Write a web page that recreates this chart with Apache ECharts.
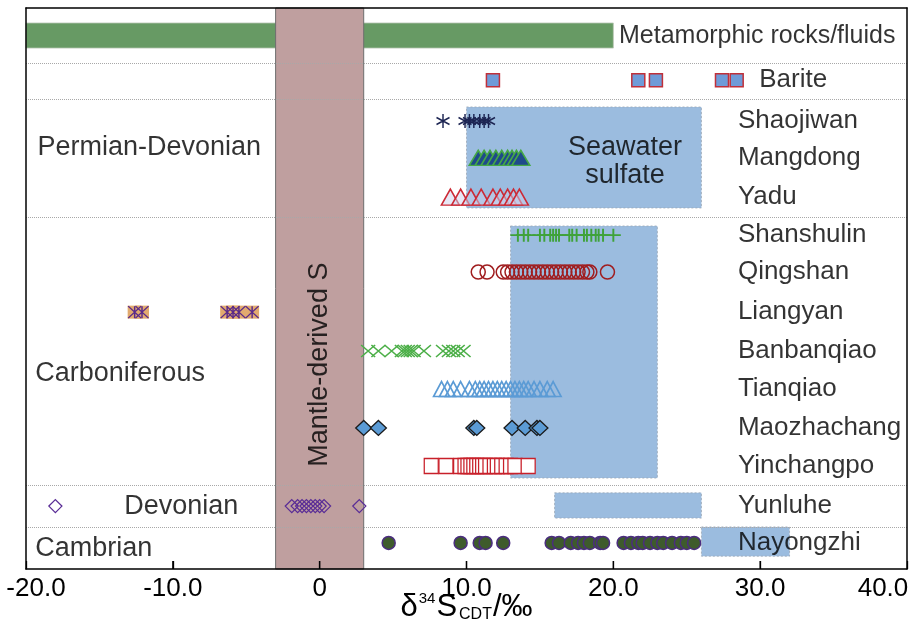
<!DOCTYPE html>
<html>
<head>
<meta charset="utf-8" />
<title>d34S</title>
<style>html,body{margin:0;padding:0;background:#fff}</style>
</head>
<body>
<div id="main" style="width:917px;height:636px"></div>
<script src="https://cdn.jsdelivr.net/npm/echarts@6/dist/echarts.min.js"></script>
<script type="text/javascript">
// ---- data ----
var rows = ['Metamorphic rocks/fluids', 'Barite', 'Shaojiwan', 'Mangdong', 'Yadu',
    'Shanshulin', 'Qingshan', 'Liangyan', 'Banbanqiao', 'Tianqiao', 'Maozhachang',
    'Yinchangpo', 'Yunluhe', 'Nayongzhi'];
var groups = ['Permian-Devonian', 'Carboniferous', 'Devonian', 'Cambrian'];
var xTicks = [-20, -10, 0, 10, 20, 30, 40];

var metamorphic = [-20, 20];
var mantle = [-3, 3];
var seawater = [[10, 26], [13, 23], [16, 26], [26, 32]];

var barite = [11.8, 21.7, 22.9, 27.4, 28.4];
var shaojiwan = [8.4, 9.9, 10.2, 10.5, 10.9, 11.2, 11.5];
var mangdong = [10.8, 11.2, 11.6, 12.0, 12.4, 12.8, 13.1, 13.4, 13.7];
var yadu = [8.9, 9.6, 10.3, 11.0, 11.8, 12.3, 12.8, 13.2, 13.6];
var shanshulin = [13.5, 13.9, 14.2, 15.0, 15.3, 15.7, 15.9, 16.1, 16.3, 17.0, 17.2, 17.5,
    18.0, 18.2, 18.5, 18.8, 19.0, 19.3, 20.0];
var qingshan = [10.8, 11.4, 12.5, 12.8, 13.1, 13.4, 13.7, 14.0, 14.3, 14.6, 14.9, 15.2,
    15.5, 15.8, 16.1, 16.4, 16.7, 17.0, 17.3, 17.6, 17.9, 18.2, 18.4, 19.6];
var liangyan = [-12.6, -12.1, -6.3, -5.9, -5.5, -4.6];
var banbanqiao = [3.3, 4.0, 4.9, 5.6, 5.8, 6.0, 6.2, 6.4, 7.1, 8.4, 8.8, 9.1, 9.4, 9.8];
var tianqiao = [8.3, 8.7, 9.1, 9.6, 10.2, 10.6, 10.9, 11.2, 11.5, 11.8, 12.1, 12.4, 12.7,
    13.0, 13.3, 13.6, 13.9, 14.2, 14.6, 15.0, 15.5, 15.9];
var maozhachang = [3.0, 4.0, 10.5, 10.7, 13.1, 14.0, 14.8, 15.0];
var yinchangpo = [7.6, 8.6, 9.6, 9.9, 10.1, 10.3, 10.5, 10.7, 10.9, 11.1, 11.3, 11.6, 11.9,
    12.1, 12.4, 12.7, 13.0, 13.3, 14.2];
var devonian = [-18.0, -1.9, -1.5, -1.2, -0.9, -0.6, -0.3, 0.0, 0.3, 2.7];
var nayongzhi = [4.7, 9.6, 10.9, 11.3, 12.5, 15.8, 16.3, 17.1, 17.6, 18.0, 18.4, 19.1, 19.3,
    20.7, 21.2, 21.7, 22.0, 22.5, 23.0, 23.4, 24.0, 24.6, 25.0, 25.5];

// ---- layout on the hidden 0..14 row scale ----
var yMax = 14;
var rowLevel = [0.69, 1.80, 2.82, 3.74, 4.72, 5.67, 6.59, 7.59, 8.56, 9.51, 10.48, 11.43, 12.43, 13.35];
var sepLevels = [1.37, 2.27, 5.22, 11.9, 12.95];
var seawaterSpan = [[2.47, 4.99], [5.44, 11.73], [12.1, 12.73], [12.95, 13.68]];
var metamorphicSpan = [0.374, 1.0];
var rowLabelX = [20.35, 29.9, 28.45, 28.45, 28.45, 28.45, 28.45, 28.45, 28.45, 28.45, 28.45, 28.45, 28.45, 28.45];
var groupPos = [[-19.25, 3.49], [-19.4, 9.11], [-13.35, 12.43], [-19.4, 13.5]];

var FONT = 'Liberation Sans';
var INK = '#000000';

function lvl(name) {
    return rowLevel[rows.indexOf(name)];
}

function onRow(name, values) {
    var y = lvl(name);
    return values.map(function (v) { return [v, y]; });
}

function boxRender(style) {
    return function (params, api) {
        var a = api.coord([api.value(0), api.value(2)]);
        var b = api.coord([api.value(1), api.value(3)]);
        return {
            type: 'rect',
            shape: { x: a[0], y: a[1], width: b[0] - a[0], height: b[1] - a[1] },
            style: style
        };
    };
}

function boxSeries(data, style, z) {
    return {
        type: 'custom',
        silent: true,
        z: z,
        renderItem: boxRender(style),
        dimensions: ['x0', 'x1', 'y0', 'y1'],
        encode: { x: [0, 1], y: [2, 3] },
        data: data
    };
}

function pts(name, data, symbol, size, color, border, bw) {
    return {
        name: name,
        type: 'scatter',
        z: 5,
        silent: true,
        symbol: symbol,
        symbolSize: size,
        itemStyle: { color: color, borderColor: border, borderWidth: bw, opacity: 1 },
        data: data
    };
}

function textSeries(data, label, z) {
    return {
        type: 'scatter',
        silent: true,
        z: z || 6,
        symbolSize: 1,
        itemStyle: { color: 'rgba(0,0,0,0)' },
        label: Object.assign({
            show: true,
            formatter: function (p) { return p.value[2]; },
            fontFamily: FONT,
            fontSize: 26,
            color: INK
        }, label),
        data: data
    };
}

var ASTER = 'path://M0,-1L0,1M-0.87,-0.5L0.87,0.5M-0.87,0.5L0.87,-0.5';
var ASTER_BOX = 'path://M0,-1L0,1M-1,-1L1,1M-1,1L1,-1';
var PLUS = 'path://M0,-1L0,1M-1,0L1,0';
var CROSS = 'path://M-1,-1L1,1M-1,1L1,-1';

var seaData = seawater.map(function (r, i) {
    return [r[0], r[1], seawaterSpan[i][0], seawaterSpan[i][1]];
});

var rowLabelData = rows.map(function (r, i) {
    var item = { value: [rowLabelX[i], rowLevel[i], r] };
    if (i === 0) item.label = { fontSize: 25 };
    return item;
});

var series = [
    boxSeries([[metamorphic[0], metamorphic[1], metamorphicSpan[0], metamorphicSpan[1]]],
        { fill: '#679a64', stroke: '#b9c7b5', lineWidth: 0.8 }, 1),
    boxSeries(seaData,
        { fill: '#9bbcdf', stroke: '#9aa6b4', lineWidth: 0.8, lineDash: [2, 2] }, 1),
    boxSeries([[mantle[0], mantle[1], 0, yMax]],
        { fill: '#bf9f9f', stroke: '#6e6e6e', lineWidth: 1 }, 2),
    {
        type: 'scatter',
        silent: true,
        z: 3,
        data: [],
        markLine: {
            silent: true,
            symbol: ['none', 'none'],
            label: { show: false },
            lineStyle: { color: '#a8a8a8', type: 'dotted', width: 1 },
            data: sepLevels.map(function (v) { return { yAxis: v }; })
        }
    },
    pts('Barite', onRow('Barite', barite), 'rect', [13, 13], '#6f9bd8', '#c0303a', 1.5),
    pts('Shaojiwan', onRow('Shaojiwan', shaojiwan), ASTER, [13, 14], 'transparent', '#1c2452', 1.5),
    pts('Mangdong', onRow('Mangdong', mangdong), 'triangle', [18, 15], '#1f4a8a', '#45a845', 1.5),
    pts('Yadu', onRow('Yadu', yadu), 'triangle', [18, 16], 'rgba(205,210,238,0.5)', '#cc2a36', 1.5),
    pts('Shanshulin', onRow('Shanshulin', shanshulin), PLUS, [15, 13], 'transparent', '#3fa23a', 1.8),
    pts('Qingshan', onRow('Qingshan', qingshan), 'circle', 14, 'transparent', '#a01d1f', 1.5),
    pts('Liangyan', onRow('Liangyan', liangyan), 'rect', [14, 13], '#e2aa6e', '#e2aa6e', 0),
    pts('Liangyan', onRow('Liangyan', liangyan), ASTER_BOX, [13, 12], 'transparent', '#5a2a8a', 1.4),
    pts('Banbanqiao', onRow('Banbanqiao', banbanqiao), CROSS, [14, 12], 'transparent', '#4caf48', 1.4),
    pts('Tianqiao', onRow('Tianqiao', tianqiao), 'triangle', [16, 15], 'transparent', '#5b9bd5', 1.6),
    pts('Maozhachang', onRow('Maozhachang', maozhachang), 'diamond', [16, 15], '#5b9bd5', '#1a1a1a', 1.3),
    pts('Yinchangpo', onRow('Yinchangpo', yinchangpo), 'rect', [14, 15], '#ffffff', '#c8202a', 1.3),
    pts('Devonian', onRow('Yunluhe', devonian), 'diamond', [13, 13], 'transparent', '#5a2d96', 1.3),
    pts('Nayongzhi', onRow('Nayongzhi', nayongzhi), 'circle', 13, '#3e5b2c', '#4b2d7f', 1.5),
    textSeries(rowLabelData, { position: 'right', distance: 0 }),
    textSeries(groups.map(function (g, i) { return [groupPos[i][0], groupPos[i][1], g]; }),
        { position: 'right', distance: 0, fontSize: 27 }),
    textSeries([[20.8, 3.82, 'Seawater\nsulfate']],
        { position: 'inside', align: 'center', lineHeight: 28, fontSize: 27 }),
    textSeries([[0, 8.9, 'Mantle-derived S']],
        { position: 'inside', rotate: 90, align: 'center', fontSize: 27 }),
    // inner tick marks on the bottom axis, drawn on top of the bands
    {
        type: 'custom',
        silent: true,
        z: 11,
        renderItem: function (params, api) {
            var p = api.coord([api.value(0), api.value(1)]);
            return {
                type: 'line',
                shape: { x1: p[0], y1: p[1], x2: p[0], y2: p[1] - 8 },
                style: { stroke: INK, lineWidth: 1.3 }
            };
        },
        encode: { x: 0, y: 1 },
        data: xTicks.slice(1, -1).map(function (v) { return [v, yMax]; })
    }
];

var frameLine = { show: true, onZero: false, lineStyle: { color: INK, width: 1.5 } };

var option = {
    animation: false,
    backgroundColor: '#ffffff',
    grid: { left: 26, right: 10, top: 8, bottom: 67, containLabel: false, outerBoundsMode: 'none' },
    xAxis: [{
        type: 'value',
        position: 'bottom',
        min: xTicks[0],
        max: xTicks[xTicks.length - 1],
        interval: xTicks[1] - xTicks[0],
        z: 10,
        axisLine: frameLine,
        axisTick: { show: true, inside: true, length: 8, lineStyle: { color: INK, width: 1.3 } },
        splitLine: { show: false },
        axisLabel: {
            margin: 7,
            fontFamily: FONT,
            fontSize: 26,
            color: INK,
            formatter: function (v) {
                var s = v === 0 ? '0' : v.toFixed(1);
                if (v === xTicks[0]) return '{l|' + s + '}';
                if (v === xTicks[xTicks.length - 1]) return '{r|' + s + '}';
                return s;
            },
            rich: {
                l: { fontFamily: FONT, fontSize: 26, color: INK, padding: [0, 0, 0, 20] },
                r: { fontFamily: FONT, fontSize: 26, color: INK, padding: [0, 48, 0, 0] }
            }
        },
        name: '{d|δ}{sup|34}{d|S}{sub|CDT}{d|/‰}',
        nameLocation: 'middle',
        nameGap: 22,
        nameMoveOverlap: false,
        nameTextStyle: {
            rich: {
                d: { fontFamily: FONT, fontSize: 31, color: INK, lineHeight: 32 },
                sup: { fontFamily: FONT, fontSize: 15, color: INK, verticalAlign: 'top', lineHeight: 17, padding: [0, 1, 0, 1] },
                sub: { fontFamily: FONT, fontSize: 16, color: INK, verticalAlign: 'bottom', lineHeight: 17, padding: [0, 1, 0, 2] }
            }
        }
    }, {
        type: 'value',
        position: 'top',
        min: xTicks[0],
        max: xTicks[xTicks.length - 1],
        z: 10,
        axisLine: frameLine,
        axisTick: { show: false },
        axisLabel: { show: false },
        splitLine: { show: false }
    }],
    yAxis: [{
        type: 'value',
        position: 'left',
        min: 0,
        max: yMax,
        inverse: true,
        z: 10,
        axisLine: frameLine,
        axisTick: { show: false },
        axisLabel: { show: false },
        splitLine: { show: false }
    }, {
        type: 'value',
        position: 'right',
        min: 0,
        max: yMax,
        inverse: true,
        z: 10,
        axisLine: frameLine,
        axisTick: { show: false },
        axisLabel: { show: false },
        splitLine: { show: false }
    }],
    series: series
};

var myChart = echarts.init(document.getElementById('main'));
myChart.setOption(option);
</script>
</body>
</html>
